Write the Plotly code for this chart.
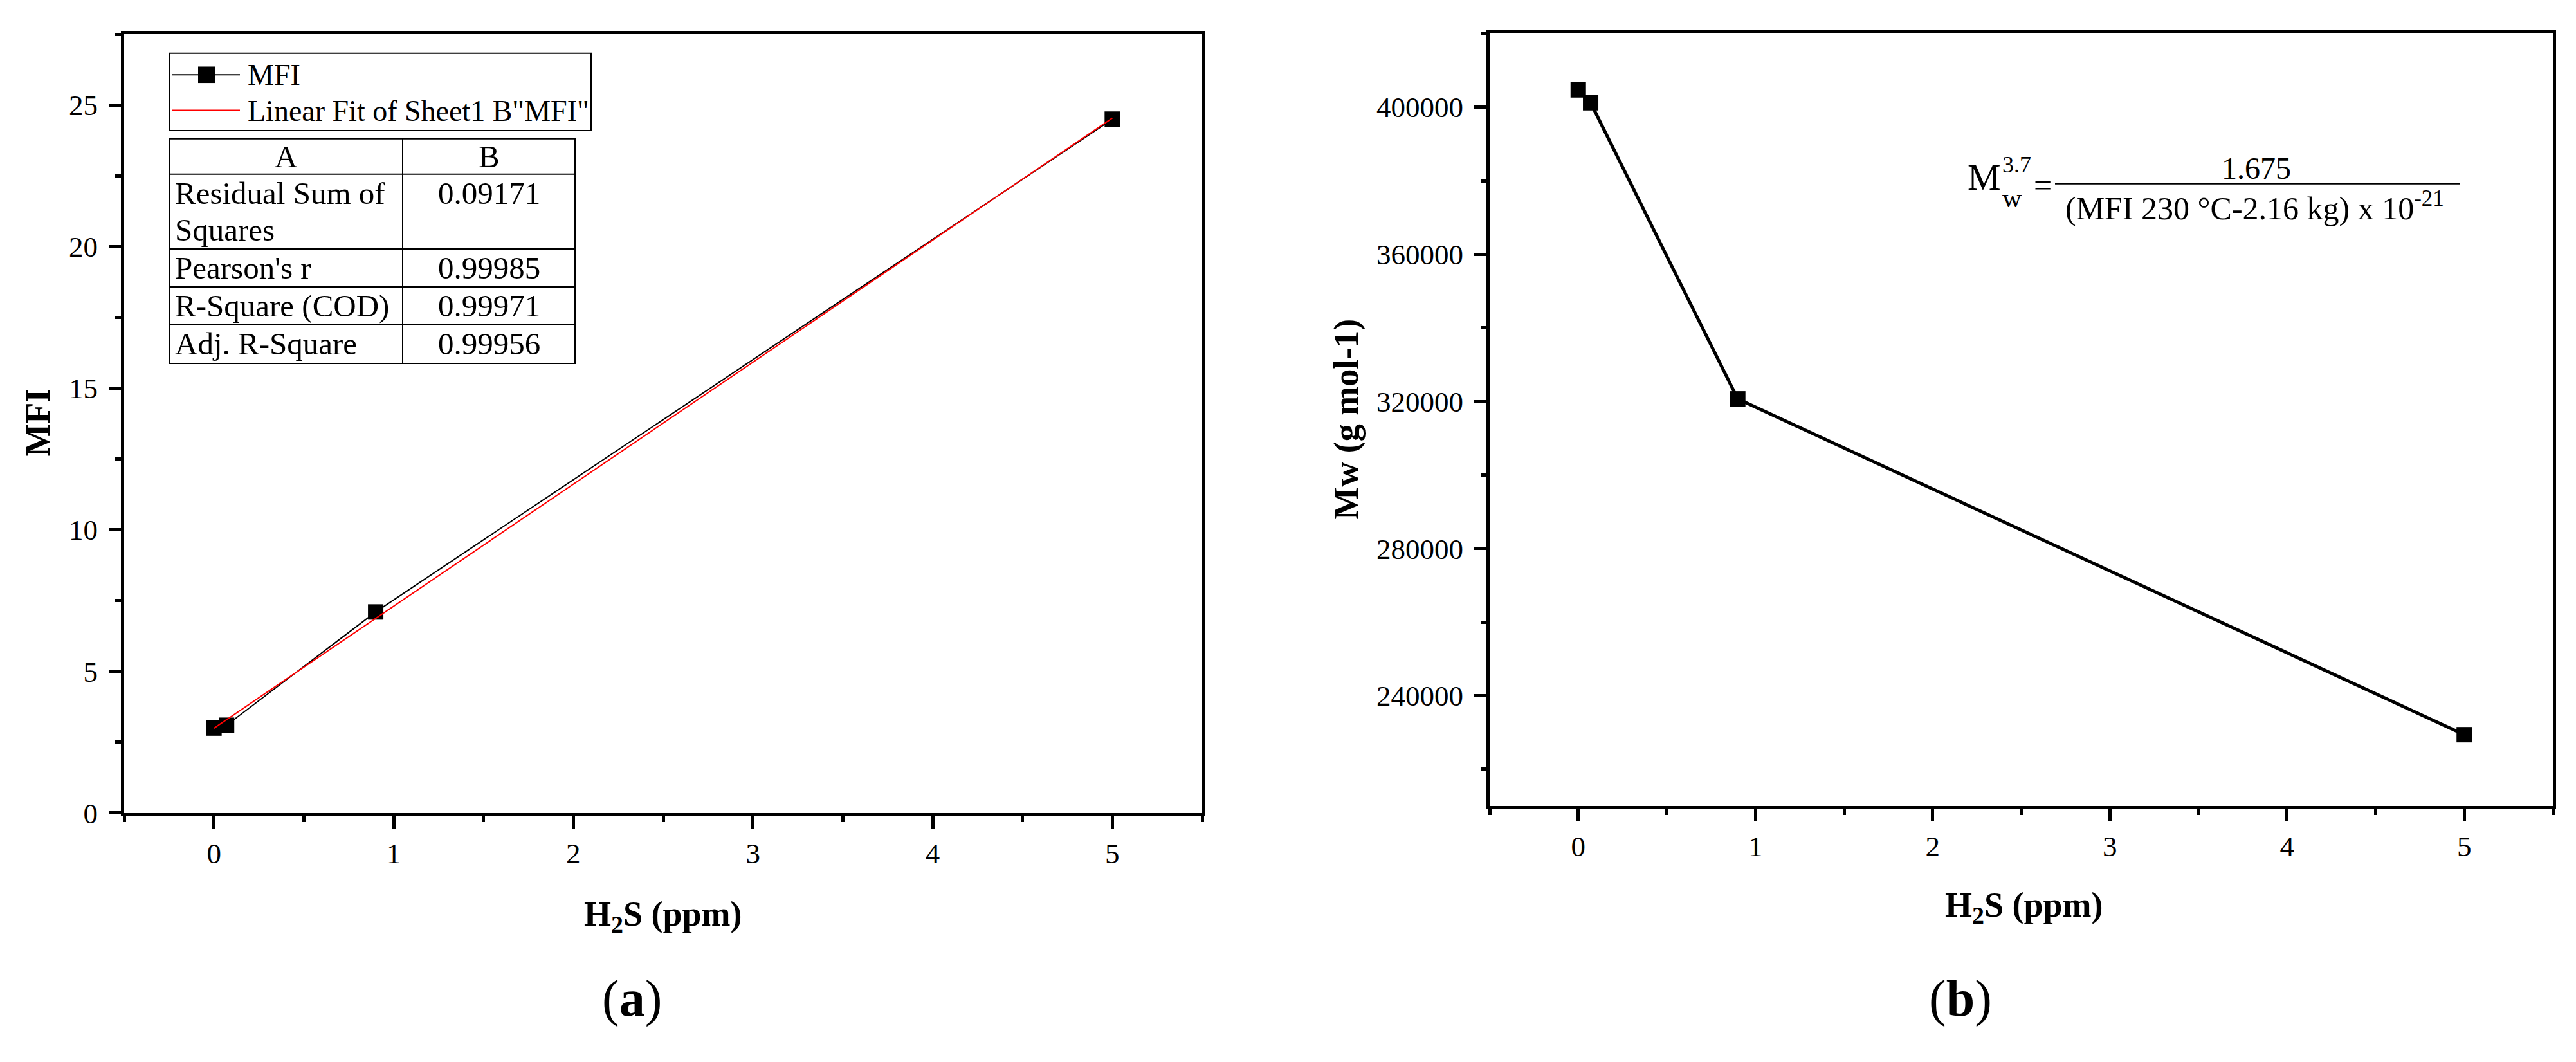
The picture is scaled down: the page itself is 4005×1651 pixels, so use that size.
import numpy as np
import plotly.graph_objects as go

W, H = 4005, 1651
FONT = "Liberation Serif"

# ---------------- data ----------------
h2s_ppm = [0.0, 0.07, 0.9, 5.0]
mfi = [3.0, 3.1, 7.1, 24.5]
mw = [404700, 401200, 320700, 229400]

x_tick_vals = [0, 1, 2, 3, 4, 5]
mfi_tick_vals = [0, 5, 10, 15, 20, 25]
mw_tick_vals = [240000, 280000, 320000, 360000, 400000]

table_header = ["A", "B"]
stat_labels = [["Residual Sum of", "Squares"], ["Pearson's r"], ["R-Square (COD)"], ["Adj. R-Square"]]
stat_values = ["0.09171", "0.99985", "0.99971", "0.99956"]

legend_names = ["MFI", 'Linear Fit of Sheet1 B"MFI"']

# linear fit of the MFI data
slope, intercept = np.polyfit(h2s_ppm, mfi, 1)
fit_x = [min(h2s_ppm), max(h2s_ppm)]
fit_y = [intercept + slope * v for v in fit_x]


def fx(p):
    return p / W


def fy(p):
    return 1 - p / H


fig = go.Figure()

fig.add_trace(go.Scatter(x=h2s_ppm, y=mfi, mode="lines+markers", name=legend_names[0],
                         line=dict(color="black", width=2),
                         marker=dict(symbol="square", size=24, color="black", line=dict(width=0)),
                         xaxis="x", yaxis="y", showlegend=False))
fig.add_trace(go.Scatter(x=fit_x, y=fit_y, mode="lines", name=legend_names[1],
                         line=dict(color="red", width=2),
                         xaxis="x", yaxis="y", showlegend=False))
fig.add_trace(go.Scatter(x=h2s_ppm, y=mw, mode="lines+markers", name="Mw",
                         line=dict(color="black", width=5),
                         marker=dict(symbol="square", size=24, color="black", line=dict(width=0)),
                         xaxis="x2", yaxis="y2", showlegend=False))

tickfont = dict(family=FONT, size=45, color="black")
common = dict(showline=True, linecolor="black", linewidth=5, mirror=True,
              ticks="outside", ticklen=19, tickwidth=5, tickcolor="black",
              showgrid=False, zeroline=False, tickfont=tickfont)

fig.update_layout(
    width=W, height=H,
    margin=dict(l=0, r=0, t=0, b=0),
    paper_bgcolor="white", plot_bgcolor="white",
    showlegend=False,
    xaxis=dict(domain=[fx(185), fx(1861)], range=[-0.5, 5.5], anchor="y",
               tickmode="array", tickvals=x_tick_vals,
               minor=dict(tickmode="linear", tick0=0, dtick=0.5, ticks="outside", ticklen=9,
                          tickwidth=5, tickcolor="black", showgrid=False),
               **common),
    yaxis=dict(domain=[fy(1276), fy(46)], range=[0, 27.5], anchor="x",
               tickmode="array", tickvals=mfi_tick_vals, ticklabelstandoff=8,
               minor=dict(tickmode="linear", tick0=0, dtick=2.5, ticks="outside", ticklen=9,
                          tickwidth=5, tickcolor="black", showgrid=False),
               **common),
    xaxis2=dict(domain=[fx(2308), fx(3961)], range=[-0.5, 5.5], anchor="y2",
                tickmode="array", tickvals=x_tick_vals,
                minor=dict(tickmode="linear", tick0=0, dtick=0.5, ticks="outside", ticklen=9,
                           tickwidth=5, tickcolor="black", showgrid=False),
                **common),
    yaxis2=dict(domain=[fy(1265), fy(45)], range=[210000, 420000], anchor="x2",
                tickmode="array", tickvals=mw_tick_vals, tickformat="d", ticklabelstandoff=8,
                minor=dict(tickmode="linear", tick0=200000, dtick=20000, ticks="outside", ticklen=9,
                           tickwidth=5, tickcolor="black", showgrid=False),
                **common),
)


def ann(text, x, y, size, xanchor="center", yanchor="middle", angle=0):
    return dict(text=text, x=fx(x), y=fy(y), xref="paper", yref="paper", showarrow=False,
                xanchor=xanchor, yanchor=yanchor, textangle=angle, borderpad=0,
                font=dict(family=FONT, size=size, color="black"))


def line_shape(x0, y0, x1, y1, color="black", width=2):
    return dict(type="line", xref="paper", yref="paper", x0=fx(x0), y0=fy(y0), x1=fx(x1), y1=fy(y1),
                line=dict(color=color, width=width))


def rect_shape(x0, y0, x1, y1, fill=None, width=2):
    d = dict(type="rect", xref="paper", yref="paper", x0=fx(x0), y0=fy(y0), x1=fx(x1), y1=fy(y1),
             line=dict(color="black", width=width))
    if fill:
        d["fillcolor"] = fill
        d["line"] = dict(width=0)
    return d


annotations = []
shapes = []

# axis titles and panel labels
annotations.append(ann("<b>MFI</b>", 51, 660, 54, angle=-90))
annotations.append(ann("<b>H<sub>2</sub>S (ppm)</b>", 1022, 1439, 54))
annotations.append(ann("(<b>a</b>)", 974, 1569, 80))
annotations.append(ann("<b>Mw (g mol-1)</b>", 2085, 654, 54, angle=-90))
annotations.append(ann("<b>H<sub>2</sub>S (ppm)</b>", 3138, 1425, 54))
annotations.append(ann("(<b>b</b>)", 3040, 1569, 80))

# legend box (panel a)
shapes.append(rect_shape(255, 76, 911, 198))
shapes.append(line_shape(260, 110, 365, 110, "black", 2))
shapes.append(rect_shape(300, 97, 326, 123, fill="black"))
shapes.append(line_shape(260, 166, 365, 166, "red", 2))
annotations.append(ann(legend_names[0], 376, 110, 46, xanchor="left"))
annotations.append(ann(legend_names[1], 376, 167, 46, xanchor="left"))

# statistics table (panel a)
row_edges = [211, 267, 385, 445, 505, 566]
col_left, col_mid, col_right = 256, 618, 886
shapes.append(rect_shape(col_left, row_edges[0], col_right, row_edges[-1]))
shapes.append(line_shape(col_mid, row_edges[0], col_mid, row_edges[-1]))
for yy in row_edges[1:-1]:
    shapes.append(line_shape(col_left, yy, col_right, yy))
annotations.append(ann(table_header[0], (col_left + col_mid) / 2, 239, 49))
annotations.append(ann(table_header[1], (col_mid + col_right) / 2, 239, 49))
row_text_y = [[297, 355], [415], [475], [535]]
for labels, ys, val in zip(stat_labels, row_text_y, stat_values):
    for lab, yy in zip(labels, ys):
        annotations.append(ann(lab, 263, yy, 49, xanchor="left"))
    annotations.append(ann(val, (col_mid + col_right) / 2, ys[0], 49))

# formula (panel b)
annotations.append(ann("M", 3050, 272, 58, xanchor="left"))
annotations.append(ann("3.7", 3104, 252, 36, xanchor="left"))
annotations.append(ann("w", 3104, 305, 42, xanchor="left"))
annotations.append(ann("=", 3168, 284, 50))
shapes.append(line_shape(3187, 282, 3817, 282, "black", 2.5))
annotations.append(ann("1.675", 3500, 258, 48))
annotations.append(ann("(MFI 230 °C-2.16 kg) x 10<sup>-21</sup>", 3497, 318, 50))

fig.update_layout(annotations=annotations, shapes=shapes)

fig.write_html("out.html")
